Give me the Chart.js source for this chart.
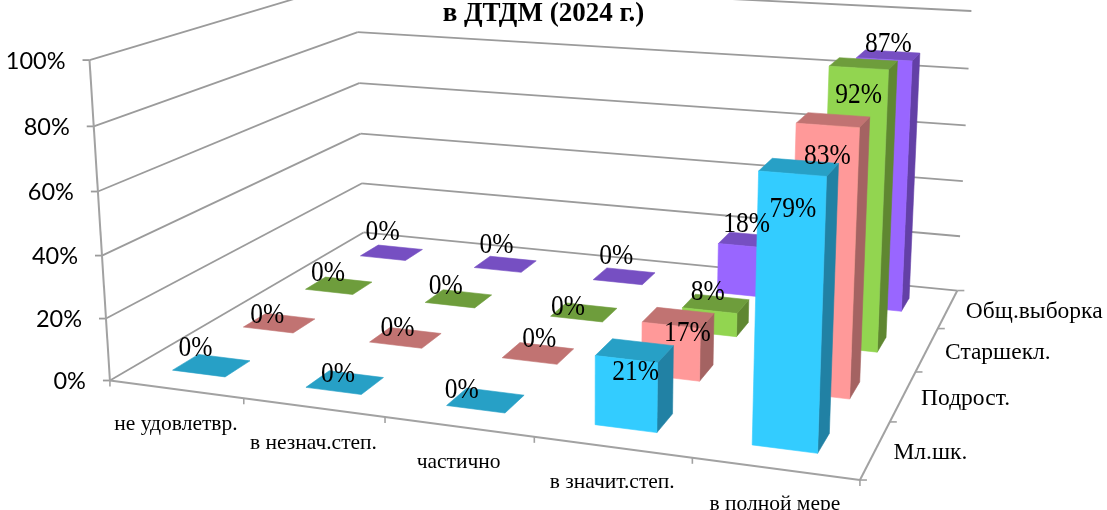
<!DOCTYPE html>
<html><head><meta charset="utf-8">
<style>html,body{margin:0;padding:0;background:#fff}canvas{display:block}</style>
<script src="https://cdn.jsdelivr.net/npm/chart.js@4"></script></head>
<body><canvas id="c" width="1107" height="510"></canvas>
<script>
const categories = ['не удовлетвр.','в незнач.степ.','частично','в значит.степ.','в полной мере'];
const seriesNames = ['Мл.шк.','Подрост.','Старшекл.','Общ.выборка'];
const mlShk = [0,0,0,21,79];
const podrost = [0,0,0,17,83];
const starshekl = [0,0,0,8,92];
const obshch = [0,0,0,18,87];
const titleText = 'в ДТДМ (2024 г.)';

// styling: [front, side, top] per series
const palette = [
  ['#33CCFF','#2181A4','#27A0C6'],
  ['#FF9999','#A46362','#C17372'],
  ['#92D550','#5F8731','#6E9D3C'],
  ['#9966FF','#6340A6','#764FC2']
];
// data label nudges from the centre of each bar's top face
const labelNudge = [
  [[-16,-17],[-7,-8],[-24,-10],[1,22],[-6,42]],
  [[-12,-8],[-8,-9],[1,-14],[9,16],[-6,36]],
  [[-11,-12],[-13,-12],[-16,-5],[-8,-11],[-5,32]],
  [[-9,-20],[-9,-19],[-8,-20],[-3,-16],[0,-11]]
];
// camera calibration: unit cube (category, depth, value) -> picture
const camera = [
  [0,0,0,110,380],[1,0,0,857,479],[1,1,0,955,291],[0,1,0,364,232],
  [0,0,1,90,60],[1,1,1,972,11],[0,1,.8,357,32],[0,0,.6,98,191],[1,1,.6,965,126],
  [.2,0,0,244,400],[.6,0,0,533,438],[1,.25,0,892,421],[1,.5,0,917,372],[1,.75,0,940,328]
];
function solveCamera(){
  const N=11,A=Array.from({length:N},()=>Array(N+1).fill(0));
  const add=(r,b)=>{for(let i=0;i<N;i++){for(let k=0;k<N;k++)A[i][k]+=r[i]*r[k];A[i][N]+=r[i]*b;}};
  camera.forEach(([u,v,w,x,y])=>{const X=x/1000,Y=y/1000;
    add([u,v,w,1,0,0,0,0,-X*u,-X*v,-X*w],X);
    add([0,0,0,0,u,v,w,1,-Y*u,-Y*v,-Y*w],Y);});
  for(let i=0;i<N;i++){let p=i;for(let r=i+1;r<N;r++)if(Math.abs(A[r][i])>Math.abs(A[p][i]))p=r;
    [A[i],A[p]]=[A[p],A[i]];
    for(let r=0;r<N;r++){if(r===i)continue;const f=A[r][i]/A[i][i];for(let k=i;k<=N;k++)A[r][k]-=f*A[i][k];}}
  return A.map((r,i)=>r[N]/r[i]);
}
const M=solveCamera();
function unit(u,v,w){const d=M[8]*u+M[9]*v+M[10]*w+1;
  return [1000*(M[0]*u+M[1]*v+M[2]*w+M[3])/d,1000*(M[4]*u+M[5]*v+M[6]*w+M[7])/d];}

const barHalfW=.2, barHalfD=.175, barShift=-.015;
const perspectiveBars={
  id:'perspectiveBars',
  beforeDatasetsDraw(chart){
    const ctx=chart.ctx,sx=chart.scales.x,sy=chart.scales.y,sz=chart.scales.z;
    const P=(c,s,val)=>unit((sx.getPixelForValue(c)-sx.left)/sx.width,
                            (sz.getPixelForValue(s)-sz.left)/sz.width,
                            (sy.bottom-sy.getPixelForValue(val))/(sy.bottom-sy.top));
    const line=(a,b)=>{ctx.beginPath();ctx.moveTo(a[0],a[1]);ctx.lineTo(b[0],b[1]);ctx.stroke();};
    const poly=(pts,col)=>{ctx.beginPath();pts.forEach((p,i)=>i?ctx.lineTo(p[0],p[1]):ctx.moveTo(p[0],p[1]));ctx.closePath();
      ctx.fillStyle=col;ctx.fill();ctx.strokeStyle=col;ctx.lineWidth=.6;ctx.stroke();};
    const nc=categories.length,ns=seriesNames.length,cL=-.5,cR=nc-.5,dF=-.5,dB=ns-.5;
    // walls and floor
    ctx.save();ctx.lineCap='butt';
    ctx.strokeStyle='#9b9b9b';ctx.lineWidth=1.8;
    const tick=sy.ticks;
    tick.forEach(t=>{line(P(cL,dF,t.value),P(cL,dB,t.value));line(P(cL,dB,t.value),P(cR,dB,t.value));
      const a=P(cL,dF,t.value);line(a,[a[0]-7,a[1]]);});
    ctx.strokeStyle='#a2a2a2';ctx.lineWidth=2;
    line(P(cL,dF,0),P(cL,dF,100));
    line(P(cL,dF,0),P(cR,dF,0));
    line(P(cR,dF,0),P(cR,dB,0));
    ctx.lineWidth=1.6;
    for(let c=0;c<=nc;c++){const a=P(c-.5,dF,0);line(a,[a[0],a[1]+6]);}
    for(let s=0;s<=ns;s++){const a=P(cR,s-.5,0);line(a,[a[0]+7,a[1]]);}
    // bars, back series first
    const tops=[];
    for(let s=ns-1;s>=0;s--){
      const meta=chart.getDatasetMeta(s);
      for(let c=0;c<nc;c++){
        const val=meta._parsed[c].y;
        const c0=c+barShift-barHalfW,c1=c+barShift+barHalfW,s0=s-barHalfD,s1=s+barHalfD;
        const tf0=P(c0,s0,val),tf1=P(c1,s0,val),tb0=P(c0,s1,val),tb1=P(c1,s1,val);
        if(val>0){
          poly([P(c1,s0,0),P(c1,s1,0),tb1,tf1],palette[s][1]);
        }
        poly([tf0,tf1,tb1,tb0],palette[s][2]);
        if(val>0) poly([P(c0,s0,0),P(c1,s0,0),tf1,tf0],palette[s][0]);
        tops.push({s,c,val,cx:(tf0[0]+tf1[0]+tb0[0]+tb1[0])/4,cy:(tf0[1]+tf1[1]+tb0[1]+tb1[1])/4});
      }
    }
    // data labels (tall, slightly condensed glyphs)
    ctx.fillStyle='#000';ctx.textAlign='center';ctx.textBaseline='middle';
    ctx.font='29px "Liberation Serif"';
    tops.forEach(t=>{const n=labelNudge[t.s][t.c];
      ctx.save();ctx.translate(t.cx+n[0],t.cy+n[1]);ctx.scale(.88,1);ctx.fillText(t.val+'%',0,0);ctx.restore();});
    // axis labels
    ctx.font='23.5px Lato';ctx.textAlign='right';
    tick.forEach(t=>{const a=P(cL,dF,t.value);ctx.fillText(t.label,a[0]-24,a[1]+1);});
    ctx.font='21.5px "Liberation Serif"';ctx.textAlign='center';
    sx.ticks.forEach((t,i)=>{const a=P(i,dF,0);ctx.fillText(t.label,a[0],a[1]+35.5);});
    ctx.font='23.5px "Liberation Serif"';ctx.textAlign='left';
    sz.ticks.forEach((t,i)=>{const a=P(cR,i,0);ctx.fillText(t.label,a[0]+18,a[1]+3);});
    ctx.restore();
    return false;
  }
};
new Chart(document.getElementById('c'),{
  type:'bar',
  data:{labels:categories,datasets:[
    {label:seriesNames[0],data:mlShk,xAxisID:'x',yAxisID:'y'},
    {label:seriesNames[1],data:podrost,xAxisID:'x',yAxisID:'y'},
    {label:seriesNames[2],data:starshekl,xAxisID:'x',yAxisID:'y'},
    {label:seriesNames[3],data:obshch,xAxisID:'x',yAxisID:'y'}
  ]},
  options:{
    responsive:false,animation:false,
    layout:{padding:{left:0,right:20,top:0,bottom:0}},
    plugins:{legend:{display:false},tooltip:{enabled:false},
      title:{display:true,text:titleText,color:'#000',padding:{top:-2,bottom:0},
        font:{family:'"Liberation Serif"',size:27,weight:'bold'}}},
    scales:{
      x:{type:'category',display:false,offset:true},
      z:{type:'category',axis:'x',display:false,offset:true,labels:seriesNames,position:'bottom'},
      y:{type:'linear',display:false,min:0,max:100,ticks:{stepSize:20,callback:v=>v+'%'}}
    }
  },
  plugins:[perspectiveBars]
});
</script></body></html>
